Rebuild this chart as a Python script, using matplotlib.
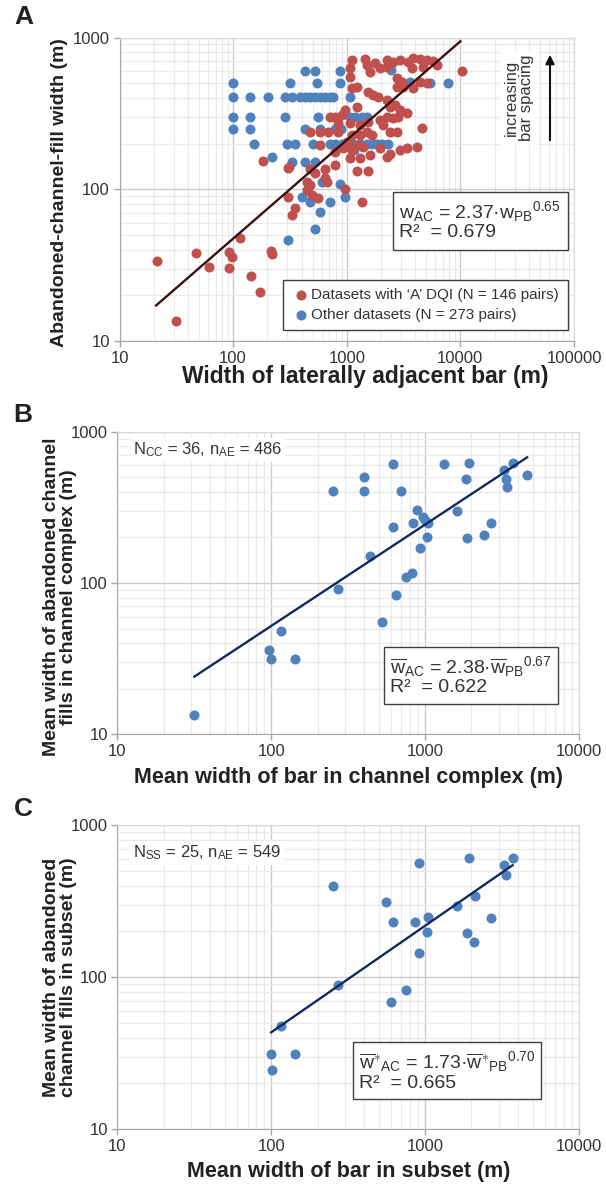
import matplotlib
matplotlib.use("Agg")
import matplotlib.pyplot as plt
from matplotlib.patches import Rectangle, FancyArrowPatch
from matplotlib.ticker import LogLocator, NullFormatter, FuncFormatter
import numpy as np

plt.rcParams['font.family'] = ['Liberation Sans', 'DejaVu Sans']
plt.rcParams['mathtext.fontset'] = 'custom'
plt.rcParams['mathtext.rm'] = 'Liberation Sans'
plt.rcParams['mathtext.it'] = 'Liberation Sans:italic'
plt.rcParams['mathtext.bf'] = 'Liberation Sans:bold'

RED = '#c0504d'
BLUE = '#4f81bd'

# ---- panel A: bar width vs abandoned-channel-fill width (pairs) ----
a_red_x = [1107, 1449, 1518, 1774, 2248, 2571, 2944, 3486, 3856, 4415, 5057, 5785, 6195, 4723,
           3733, 2248, 1964, 1604, 1069, 1069, 10280,
           2754, 3048, 3155, 3861, 4418, 5058, 2754, 1225, 1107, 1550, 1715, 1899, 2249, 2405,
           2662, 2945, 3371, 1225, 967, 903, 789, 713, 844, 1069, 1310, 1550, 1965, 2249, 2574,
           2850, 2101, 2405, 2754, 4570, 844, 689, 582, 475, 1107, 1310, 1500, 1659, 1000, 1225,
           1401, 2945, 3371, 4131, 1604, 2405, 1965, 582, 934, 1107, 789, 1069, 1310, 2249,
           21.5, 31.7, 46.8, 61, 92, 92, 97, 116, 144, 172, 184, 217, 220, 313,
           306, 475, 526, 644, 789, 444, 475, 444, 491, 562, 667, 966, 1355, 306, 351, 328,
           1224, 1550, 644]
a_red_y = [711, 721, 659, 676, 711, 692, 711, 692, 729, 721, 711, 700, 659, 642,
           627, 642, 627, 596, 627, 552, 600,
           538, 512, 474, 462, 512, 499, 474, 474, 462, 440, 418, 407, 387, 350,
           359, 333, 316, 350, 333, 308, 301, 301, 272, 272, 265, 279, 286, 301, 293,
           301, 265, 239, 239, 252, 239, 239, 239, 239, 228, 228, 239, 228, 206, 196,
           191, 181, 186, 191, 168, 172, 186, 196, 186, 181, 177, 160, 160, 164,
           33.8, 13.5, 37.8, 30.9, 30.1, 38.4, 36, 48, 26.8, 20.9, 153, 39.4, 37.4, 140,
           139, 137, 127, 137, 145, 112, 107, 99, 92, 87, 112, 101, 83, 89, 75, 68,
           131, 131, 118]

a_blue_x = [429, 526, 873, 2450,
            100, 317, 544, 873, 3606, 5408, 7850,
            100, 142, 201, 287, 328, 388, 430, 475, 526, 582, 644, 713, 762, 1069,
            100, 142, 287, 562, 1069, 1183, 1355, 1500,
            100, 142, 430, 582, 785, 883,
            152, 296, 351, 508, 713, 789, 903, 1000, 1144, 1310, 1500, 1659, 1836, 2032, 2328,
            219, 328, 430, 526,
            603, 873, 966, 402, 475, 713, 582, 526, 306, 1159]
a_blue_y = [601, 601, 601, 608,
            500, 500, 500, 500, 512, 500, 500,
            407, 407, 407, 407, 407, 407, 407, 407, 407, 407, 407, 407, 407, 407,
            301, 301, 301, 301, 301, 301, 301, 301,
            250, 250, 250, 250, 250, 250,
            200, 200, 200, 200, 200, 200, 200, 200, 200, 200, 200, 200, 200, 200, 200,
            164, 152, 152, 152,
            112, 109, 89, 89, 83, 83, 71, 55, 46, 182]

# ---- panel B: channel-complex means ----
b_x = [31.6, 96, 99.7, 115.6, 141.6, 250, 270, 398, 403, 439, 525, 621, 621, 651, 698, 754,
       826, 836, 881, 922, 966, 1024, 1036, 1328, 1600, 1850, 1871, 1937, 2429, 2697, 3266,
       3342, 3404, 3709, 4600, 1000]
b_y = [13.4, 36, 31.6, 48.2, 31.6, 403, 90.8, 504, 403, 151, 55, 608, 236, 83.4, 403, 110,
       116, 251, 303, 171, 272, 202, 251, 608, 301, 484, 198, 618, 207, 249, 558,
       487, 433, 618, 514, 260]

# ---- panel C: subset means ----
c_x = [99.7, 101, 115.6, 141.6, 250, 270, 557, 597, 621, 745, 861, 913, 916, 1047, 1024,
       1600, 1871, 1937, 2075, 2100, 2697, 3266, 3342, 3709]
c_y = [31.3, 24.5, 47.7, 31.3, 395, 89.3, 313, 68.7, 231, 82.4, 231, 560, 144, 247, 198,
       295, 196, 607, 169, 344, 246, 546, 472, 607]

# power-law fits  w = k * x^p, drawn between the listed x limits
fit_a = (2.37, 0.65, 21, 10000)
fit_b = (2.38, 0.67, 31.6, 4600)
fit_c = (1.73, 0.70, 99.7, 3700)

W, H = 606, 1187
fig = plt.figure(figsize=(W / 100, H / 100), dpi=100)


def fx(px):
    return px / W


def fy(py):
    return 1 - py / H


def make_axes(left, right, top, bottom, xmax):
    ax = fig.add_axes([fx(left), fy(bottom), (right - left) / W, (bottom - top) / H])
    ax.set_xscale('log')
    ax.set_yscale('log')
    ax.set_xlim(10, xmax)
    ax.set_ylim(10, 1000)
    ax.xaxis.set_major_locator(LogLocator(base=10, numticks=10))
    ax.yaxis.set_major_locator(LogLocator(base=10, numticks=10))
    ax.xaxis.set_minor_locator(LogLocator(base=10, subs=np.arange(2, 10), numticks=10))
    ax.yaxis.set_minor_locator(LogLocator(base=10, subs=np.arange(2, 10), numticks=10))
    fmt = FuncFormatter(lambda v, pos: '%d' % round(v))
    ax.xaxis.set_major_formatter(fmt)
    ax.yaxis.set_major_formatter(fmt)
    ax.xaxis.set_minor_formatter(NullFormatter())
    ax.yaxis.set_minor_formatter(NullFormatter())
    ax.grid(True, which='major', color='#cccccc', lw=1.0)
    ax.grid(True, which='minor', color='#e9e9e9', lw=0.8)
    ax.set_axisbelow(True)
    ax.tick_params(which='major', direction='out', length=4, width=1, color='#a6a6a6',
                   labelsize=12, labelcolor='#333333', pad=3)
    ax.tick_params(which='minor', length=0)
    for s in ('left', 'bottom'):
        ax.spines[s].set_color('#a6a6a6')
    for s in ('top', 'right'):
        ax.spines[s].set_color('#d9d9d9')
    return ax


def fit_line(ax, fit, color):
    k, p, x0, x1 = fit
    xs = np.array([x0, x1])
    ax.plot(xs, k * xs ** p, color=color, lw=1.7, zorder=4)


def eq_box(left, top, right, bottom, line1, line2):
    fig.patches.append(Rectangle((fx(left), fy(bottom)), (right - left) / W, (bottom - top) / H,
                                 transform=fig.transFigure, facecolor='white',
                                 edgecolor='#404040', lw=1.0, zorder=5))
    tx = left + 6
    fig.text(fx(tx), fy(top + 20), line1, fontsize=14, color='#333333', va='center', zorder=6)
    fig.text(fx(tx), fy(top + 41), line2, fontsize=14, color='#333333', va='center', zorder=6)


XLBL = dict(fontweight='bold', color='#222222', ha='center', va='center')
YLBL = dict(fontsize=14, fontweight='bold', color='#222222', ha='center', va='center',
            rotation=90)
PANEL = dict(fontsize=19, fontweight='bold', color='#222222', ha='center', va='center')

# ---------------- A ----------------
axA = make_axes(119.5, 574, 37.5, 341, 100000)
axA.scatter(a_red_x, a_red_y, s=52, color=RED, lw=0, zorder=3,
            label='Datasets with \u2018A\u2019 DQI (N = 146 pairs)')
axA.scatter(a_blue_x, a_blue_y, s=52, color=BLUE, lw=0, zorder=2,
            label='Other datasets (N = 273 pairs)')
fit_line(axA, fit_a, '#3c0d0d')
h, l = axA.get_legend_handles_labels()
leg = axA.legend(h, l, loc='lower right', bbox_to_anchor=((567.5 - 119.5) / 454.5, (341 - 330) / 303.5),
                 borderaxespad=0, fontsize=11, frameon=True, fancybox=False, framealpha=1,
                 edgecolor='#404040', handletextpad=0.1, handlelength=1.2, borderpad=0.55,
                 labelspacing=0.35)
leg.get_frame().set_linewidth(1.0)
for t in leg.get_texts():
    t.set_color('#333333')
eq_box(393, 191.7, 567.5, 250,
       r'w$_\mathregular{AC}$ = 2.37·w$_\mathregular{PB}$$^\mathregular{0.65}$',
       'R\u00b2  = 0.679')
fig.text(fx(519), fy(98), 'increasing\nbar spacing', rotation=90, fontsize=12,
         color='#333333', ha='center', va='center', linespacing=1.0, zorder=6,
         bbox=dict(facecolor='white', edgecolor='none', pad=3))
fig.add_artist(FancyArrowPatch((fx(550), fy(143)), (fx(550), fy(52)),
                               transform=fig.transFigure, arrowstyle='-|>',
                               mutation_scale=13, lw=1.5, color='#111111', zorder=7))
fig.text(fx(365), fy(377), 'Width of laterally adjacent bar (m)', fontsize=16.5, **XLBL)
fig.text(fx(60), fy(193), 'Abandoned-channel-fill width (m)', **YLBL)
fig.text(fx(24), fy(17), 'A', **PANEL)

# ---------------- B ----------------
axB = make_axes(117.5, 579, 431.7, 734.3, 10000)
axB.scatter(b_x, b_y, s=52, color=BLUE, lw=0, zorder=3)
fit_line(axB, fit_b, '#10295e')
fig.text(fx(133), fy(450), r'N$_\mathregular{CC}$ = 36, n$_\mathregular{AE}$ = 486', fontsize=12,
         color='#333333', va='center',
         bbox=dict(facecolor='white', edgecolor='none', pad=2))
eq_box(384, 647, 558, 704,
       r'$\overline{\mathregular{w}}_\mathregular{AC}$ = 2.38·$\overline{\mathregular{w}}_\mathregular{PB}$$^\mathregular{0.67}$',
       'R\u00b2  = 0.622')
fig.text(fx(348), fy(778), 'Mean width of bar in channel complex (m)', fontsize=15.5, **XLBL)
fig.text(fx(60), fy(597), 'Mean width of abandoned channel\nfills in channel complex (m)',
         linespacing=1.05, **YLBL)
fig.text(fx(23), fy(415), 'B', **PANEL)

# ---------------- C ----------------
axC = make_axes(117.5, 579, 825, 1129.3, 10000)
axC.scatter(c_x, c_y, s=52, color=BLUE, lw=0, zorder=3)
fit_line(axC, fit_c, '#10295e')
fig.text(fx(133), fy(853), r'N$_\mathregular{SS}$ = 25, n$_\mathregular{AE}$ = 549', fontsize=12,
         color='#333333', va='center',
         bbox=dict(facecolor='white', edgecolor='none', pad=2))
eq_box(353, 1042, 541, 1099,
       r'$\overline{\mathregular{w}}^{\ast}$$_\mathregular{AC}$ = 1.73·$\overline{\mathregular{w}}^{\ast}$$_\mathregular{PB}$$^\mathregular{0.70}$',
       'R\u00b2  = 0.665')
fig.text(fx(349), fy(1172), 'Mean width of bar in subset (m)', fontsize=15.5, **XLBL)
fig.text(fx(60), fy(977), 'Mean width of abandoned\nchannel fills in subset (m)',
         linespacing=1.05, **YLBL)
fig.text(fx(23), fy(809), 'C', **PANEL)

fig.savefig('out.png', dpi=100, facecolor='white')
